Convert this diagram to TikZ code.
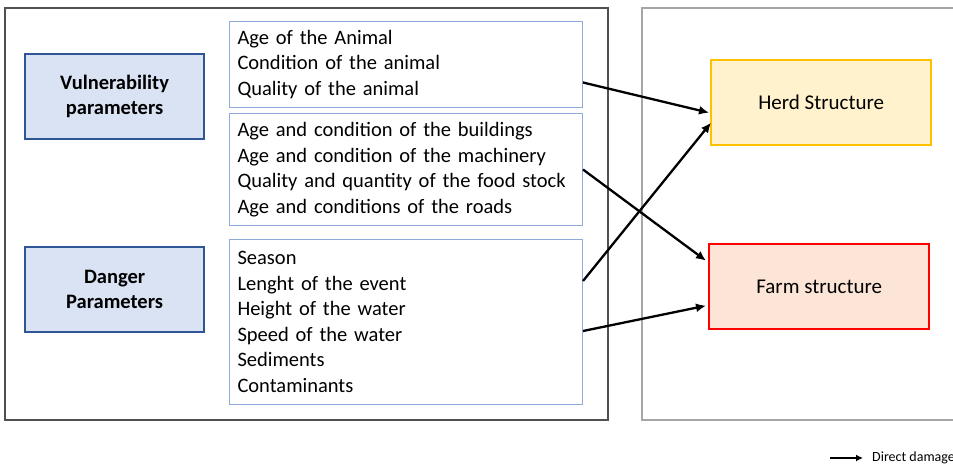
\documentclass[tikz,border=0pt]{standalone}
\usepackage{fontspec}
\setmainfont{Carlito}
\usetikzlibrary{arrows.meta,calc}
\definecolor{paramfill}{HTML}{DAE3F3}
\definecolor{paramdraw}{HTML}{2F5597}
\definecolor{listdraw}{HTML}{8FAADC}
\definecolor{herdfill}{HTML}{FFF2CC}
\definecolor{herddraw}{HTML}{FFC000}
\definecolor{farmfill}{HTML}{FCE4D6}
\definecolor{farmdraw}{HTML}{FF0000}
\definecolor{frameL}{HTML}{505050}
\definecolor{frameR}{HTML}{A6A6A6}
\tikzset{
  parambox/.style={draw=paramdraw, fill=paramfill, line width=2.2pt, minimum width=179pt, minimum height=85pt, align=center, font=\fontsize{20.5}{25.5}\selectfont\bfseries, anchor=north west, inner sep=0pt},
  listbox/.style={draw=listdraw, line width=1pt, minimum width=353pt, anchor=north west, align=left, text width=337pt, inner xsep=8pt, inner ysep=0pt, font=\fontsize{20.5}{25.5}\selectfont},
  targetbox/.style={line width=2.4pt, minimum width=220pt, minimum height=85pt, anchor=north west, font=\fontsize{21}{24}\selectfont, inner sep=0pt},
  dmg/.style={line width=2.3pt, -{Latex[length=10pt,width=9pt]}},
}
\begin{document}
\begin{tikzpicture}[x=1pt,y=-1pt]
\useasboundingbox (0,0) rectangle (953,464);
% frames
\draw[frameL, line width=1.4pt] (5,8) rectangle (608,420);
\draw[frameR, line width=1.2pt] (960,8) -- (642,8) -- (642,420) -- (960,420);
% parameter boxes
\node[parambox] (vuln) at (24,53) {Vulnerability\\parameters};
\node[parambox] (dang) at (24,246) {Danger\\Parameters};
% list boxes
\node[listbox, minimum height=86pt] (t1) at (229,21) {Age of the Animal\\Condition of the animal\\Quality of the animal};
\node[listbox, minimum height=112pt] (t2) at (229,113) {Age and condition of the buildings\\Age and condition of the machinery\\Quality and quantity of the food stock\\Age and conditions of the roads};
\node[listbox, minimum height=165pt] (t3) at (229,239) {Season\\Lenght of the event\\Height of the water\\Speed of the water\\Sediments\\Contaminants};
% targets
\node[targetbox, draw=herddraw, fill=herdfill] (herd) at (710,59) {Herd Structure};
\node[targetbox, draw=farmdraw, fill=farmfill] (farm) at (708,243) {Farm structure};
% arrows
\draw[dmg] ([yshift=-18pt]t1.east) -- ([yshift=-10pt,xshift=-1pt]herd.west);
\draw[dmg] (t2.east) -- ([yshift=26pt,xshift=-2pt]farm.west);
\draw[dmg] ([yshift=41pt]t3.east) -- ([yshift=-20pt,xshift=1pt]herd.west);
\draw[dmg] ([yshift=-9pt]t3.east) -- ([yshift=-19pt,xshift=-2pt]farm.west);
% legend
\coordinate (lgA) at (830,458);
\coordinate (lgB) at (863,458);
\draw[line width=2pt, -{Latex[length=7pt,width=7pt]}] (lgA) -- (lgB);
\node[anchor=west, inner sep=0pt, font=\fontsize{14}{16}\selectfont] (lgT) at (872,458) {Direct damage};
\end{tikzpicture}
\end{document}
